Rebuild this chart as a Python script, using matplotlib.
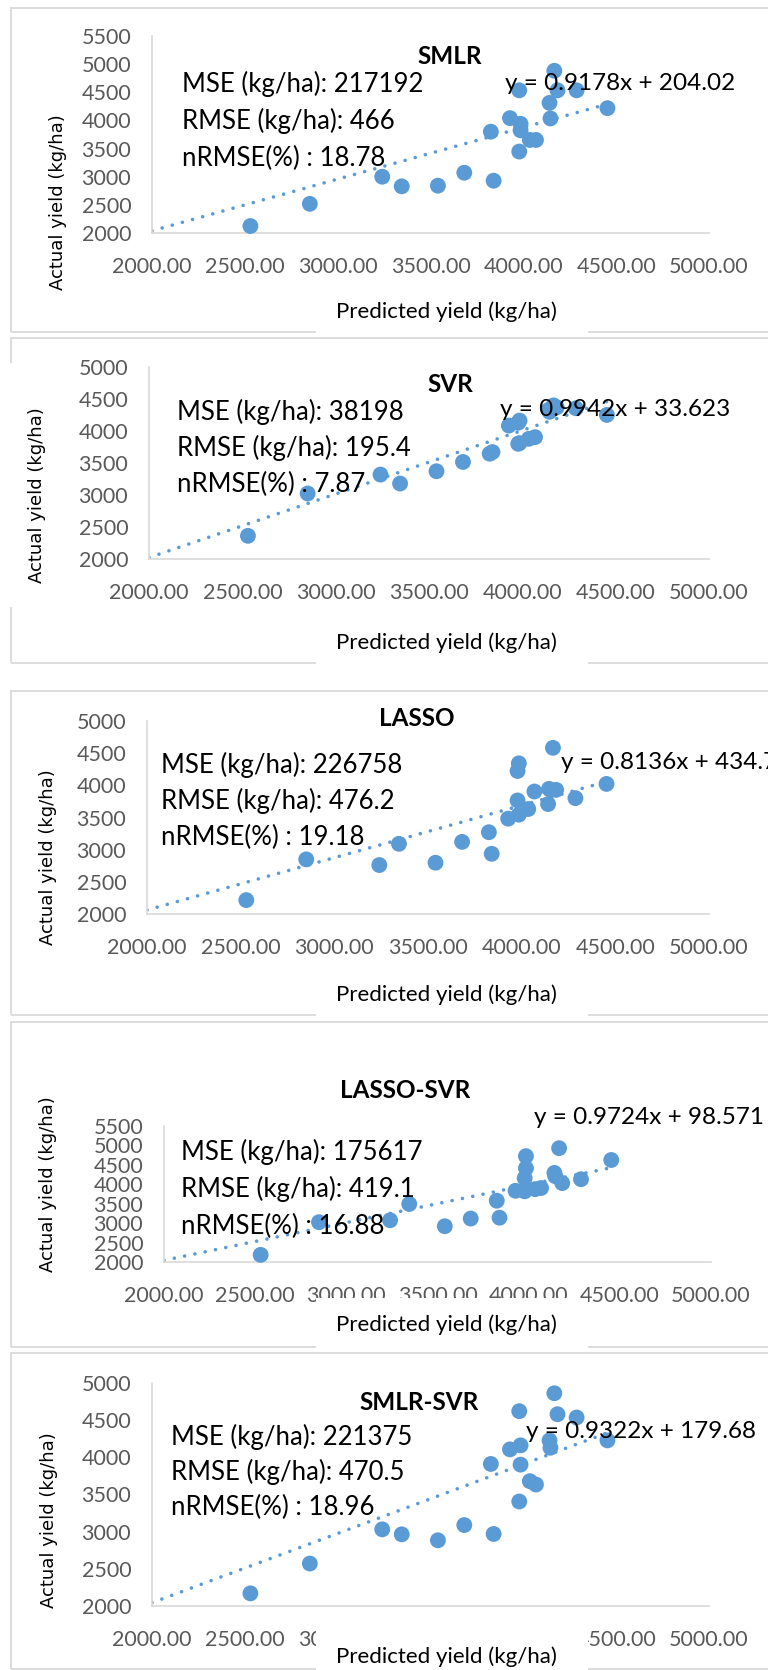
import matplotlib
matplotlib.use('Agg')
import matplotlib.pyplot as plt
from matplotlib.patches import Rectangle

W, H = 768, 1670
BLUE = '#5B9BD5'
GRID = '#d9d9d9'
TICK = '#595959'
BODY = 'Lato'

models = ['SMLR', 'SVR', 'LASSO', 'LASSO-SVR', 'SMLR-SVR']

predicted = [2530, 2850, 3240, 3345, 3540, 3682, 3825, 3840, 3928, 3985, 3985,
             3978, 3978, 4035, 4068, 4141, 4146, 4167, 4184, 4287, 4453]

actual_smlr = [2124, 2518, 3000, 2829, 2841, 3071, 3800, 2929, 4041, 3941, 3824,
               3447, 4535, 3653, 3653, 4312, 4035, 4882, 4535, 4535, 4218]
actual_svr = [2362, 3024, 3319, 3179, 3371, 3516, 3645, 3671, 4085, 4163, 3811,
              4130, 3800, 3878, 3904, 4330, 4300, 4400, 4370, 4355, 4251]
actual_lasso = [2216, 2849, 2761, 3091, 2797, 3121, 3271, 2936, 3482, 4342, 3544,
                4223, 3765, 3632, 3904, 3709, 3945, 4583, 3930, 3801, 4022]
actual_lasso_svr = [2184, 3025, 3075, 3493, 2920, 3118, 3578, 3140, 3833, 4724, 4413,
                    4158, 3819, 3875, 3904, 4293, 4208, 4929, 4031, 4130, 4625]
actual_smlr_svr = [2170, 2571, 3031, 2964, 2884, 3089, 3911, 2969, 4107, 4161, 3902,
                   3406, 4621, 3679, 3634, 4228, 4129, 4862, 4580, 4536, 4228]
actuals = [actual_smlr, actual_svr, actual_lasso, actual_lasso_svr, actual_smlr_svr]

slopes = [0.9178, 0.9942, 0.8136, 0.9724, 0.9322]
intercepts = [204.02, 33.623, 434.7, 98.571, 179.68]
equations = ['y = 0.9178x + 204.02', 'y = 0.9942x + 33.623', 'y = 0.8136x + 434.7',
             'y = 0.9724x + 98.571', 'y = 0.9322x + 179.68']
mse = ['217192', '38198', '226758', '175617', '221375']
rmse = ['466', '195.4', '476.2', '419.1', '470.5']
nrmse = ['18.78', '7.87', '19.18', '16.88', '18.96']

x_ticks = [2000, 2500, 3000, 3500, 4000, 4500, 5000]
y_tops = [5500, 5000, 5000, 5500, 5000]

# pixel layout of each chart block
frames = [(8, 332), (338, 663), (691, 1015), (1022, 1347), (1353, 1669)]
plot_boxes = [(152, 709, 36, 233), (149, 709, 367, 559), (147, 709, 721, 914),
              (164, 711, 1126, 1262), (152, 709, 1383, 1606)]
title_pos = [(450, 57), (450, 384), (417, 718), (405, 1091), (419, 1402)]
stats_pos = [(182, 84, 37), (177, 412, 36), (161, 765, 36), (181, 1152, 37), (171, 1437, 35)]
eq_pos = [(505, 83), (500, 410), (561, 762), (534, 1118), (526, 1432)]
xlab_y = [312, 643, 995, 1325, 1657]
xlab_top = [296, 627, 979, 1298, 1628]
ylab_pos = [(58, 202), (37, 495), (48, 857), (48, 1184), (49, 1520)]


def fx(px):
    return px / W


def fy(py):
    return 1 - py / H


fig = plt.figure(figsize=(W / 100, H / 100), dpi=100)
fig.patch.set_facecolor('white')

for i, name in enumerate(models):
    top, bottom = frames[i]
    fig.patches.append(Rectangle((fx(11), fy(bottom)), fx(800), (bottom - top) / H,
                                 transform=fig.transFigure, fill=False,
                                 edgecolor=GRID, lw=1.3, zorder=1))

    l, r, t, b = plot_boxes[i]
    ax = fig.add_axes([fx(l), fy(b), (r - l) / W, (b - t) / H])
    ax.set_xlim(2000, 5000)
    ax.set_ylim(2000, y_tops[i])
    ax.set_xticks(x_ticks)
    ax.set_xticklabels([f'{v:.2f}' for v in x_ticks])
    ax.set_yticks(range(2000, y_tops[i] + 1, 500))
    for side in ['top', 'right']:
        ax.spines[side].set_visible(False)
    for side in ['left', 'bottom']:
        ax.spines[side].set_color(GRID)
        ax.spines[side].set_linewidth(1.2)
    ax.tick_params(length=0, colors=TICK, labelsize=15.5)
    ax.tick_params(axis='x', pad=17)
    ax.tick_params(axis='y', pad=15)
    for lab in ax.get_xticklabels() + ax.get_yticklabels():
        lab.set_family(BODY)

    # linear trend line from the fitted equation
    x_end = max(predicted)
    ax.plot([2000, x_end], [slopes[i] * 2000 + intercepts[i], slopes[i] * x_end + intercepts[i]],
            color=BLUE, lw=2.6, linestyle=(0, (0.01, 2.9)), dash_capstyle='round', zorder=2)
    ax.scatter(predicted, actuals[i], s=130, color=BLUE, edgecolors='none', zorder=3,
               clip_on=False)

    tx, ty = title_pos[i]
    fig.text(fx(tx), fy(ty), name, ha='center', va='center', fontsize=17.5,
             fontweight='bold', family=BODY)

    sx, sy, step = stats_pos[i]
    lines = [f'MSE (kg/ha): {mse[i]}', f'RMSE (kg/ha): {rmse[i]}', f'nRMSE(%) : {nrmse[i]}']
    for k, txt in enumerate(lines):
        fig.text(fx(sx), fy(sy + k * step), txt, ha='left', va='center',
                 fontsize=18.5, family=BODY)

    ex, ey = eq_pos[i]
    fig.text(fx(ex), fy(ey), equations[i], ha='left', va='center', fontsize=17.5, family=BODY)

    # white label box over the axis text
    fig.patches.append(Rectangle((fx(316), fy(bottom + 2)), (588 - 316) / W,
                                 (bottom + 2 - xlab_top[i]) / H,
                                 transform=fig.transFigure, facecolor='white',
                                 edgecolor='none', zorder=2))
    fig.text(fx(446), fy(xlab_y[i]), 'Predicted yield (kg/ha)', ha='center', va='center',
             fontsize=16, family=BODY, zorder=4)

    lx, ly = ylab_pos[i]
    fig.text(fx(lx), fy(ly), 'Actual yield (kg/ha)', ha='center', va='center',
             rotation=90, fontsize=13, family='DejaVu Sans')

# gap in the left edge of the second block
fig.patches.append(Rectangle((0, fy(607)), fx(13), (607 - 363) / H,
                             transform=fig.transFigure, facecolor='white',
                             edgecolor='none', zorder=2))

fig.savefig('out.png', dpi=100)
